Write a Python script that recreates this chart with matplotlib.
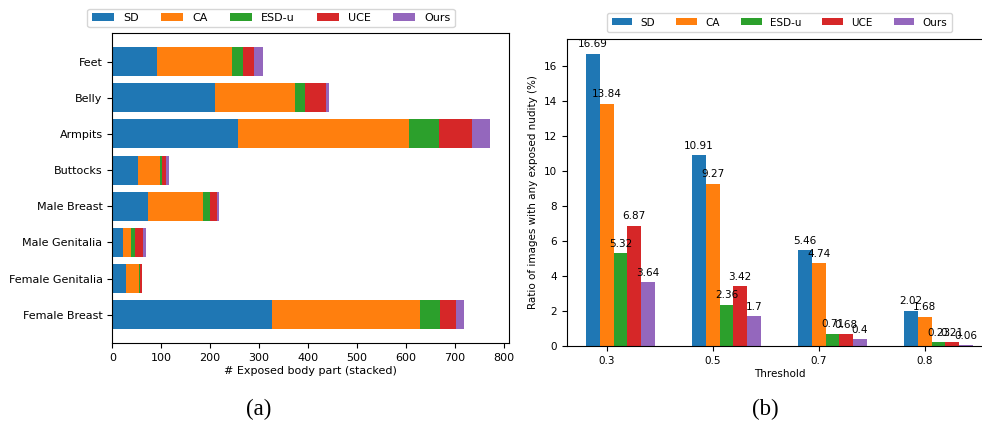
import matplotlib
matplotlib.use("Agg")
import matplotlib.pyplot as plt
import numpy as np

# ---- data (a) ----
parts = ["Feet", "Belly", "Armpits", "Buttocks", "Male Breast",
         "Male Genitalia", "Female Genitalia", "Female Breast"]
methods = ["SD", "CA", "ESD-u", "UCE", "Ours"]
sd_parts = [91, 209, 257, 52, 74, 22, 27, 327]
ca_parts = [153, 164, 350, 46, 112, 16, 28, 303]
esd_parts = [23, 21, 61, 3, 14, 8, 1, 39]
uce_parts = [22, 42, 68, 9, 15, 16, 4, 34]
ours_parts = [19, 8, 37, 5, 3, 6, 1, 17]

# ---- data (b) ----
thresholds = ["0.3", "0.5", "0.7", "0.8"]
sd_ratio = [16.69, 10.91, 5.46, 2.02]
ca_ratio = [13.84, 9.27, 4.74, 1.68]
esd_ratio = [5.32, 2.36, 0.71, 0.23]
uce_ratio = [6.87, 3.42, 0.68, 0.21]
ours_ratio = [3.64, 1.7, 0.4, 0.06]

colors = ["#1f77b4", "#ff7f0e", "#2ca02c", "#d62728", "#9467bd"]

W, H = 982, 423
fig = plt.figure(figsize=(W / 100, H / 100), dpi=100)

def box(x0, y0, x1, y1):
    return [x0 / W, 1 - y1 / H, (x1 - x0) / W, (y1 - y0) / H]

# ---- (a) stacked horizontal bars ----
ax1 = fig.add_axes(box(112.3, 33, 509.3, 343.3))
series_a = [sd_parts, ca_parts, esd_parts, uce_parts, ours_parts]
y = np.arange(len(parts))
left = np.zeros(len(parts))
for name, vals, c in zip(methods, series_a, colors):
    ax1.barh(y, vals, left=left, color=c, label=name, height=0.8)
    left = left + np.array(vals)
ax1.set_yticks(y)
ax1.set_yticklabels(parts, fontsize=8)
ax1.invert_yaxis()
ax1.tick_params(axis="x", labelsize=8)
ax1.set_xlabel("# Exposed body part (stacked)", fontsize=8, labelpad=2)
h1, l1 = ax1.get_legend_handles_labels()
fig.legend(h1, l1, loc="center", bbox_to_anchor=(271 / W, 1 - 18 / H),
           ncol=5, fontsize=8, frameon=True)

# ---- (b) grouped bars ----
ax2 = fig.add_axes(box(566.7, 39, 992.3, 346))
series_b = [sd_ratio, ca_ratio, esd_ratio, uce_ratio, ours_ratio]
x = np.arange(len(thresholds))
w = 0.13
for i, (name, vals, c) in enumerate(zip(methods, series_b, colors)):
    bars = ax2.bar(x + (i - 1) * w, vals, width=w, color=c, label=name)
    ax2.bar_label(bars, labels=[f"{v:g}" for v in vals], padding=3, fontsize=7.5)
ax2.set_xticks(x)
ax2.set_xticklabels(thresholds)
ax2.tick_params(labelsize=7.5)
ax2.set_xlabel("Threshold", fontsize=7.5, labelpad=2)
ax2.set_ylabel("Ratio of images with any exposed nudity (%)", fontsize=7.5)
h2, l2 = ax2.get_legend_handles_labels()
fig.legend(h2, l2, loc="center", bbox_to_anchor=(779.5 / W, 1 - 22.5 / H),
           ncol=5, fontsize=7.5, frameon=True)

# captions
fig.text(259 / W, 1 - 409 / H, "(a)", ha="center", va="center",
         fontsize=16.5, family="Liberation Serif")
fig.text(765 / W, 1 - 409 / H, "(b)", ha="center", va="center",
         fontsize=16.5, family="Liberation Serif")

fig.savefig("out.png", dpi=100)
